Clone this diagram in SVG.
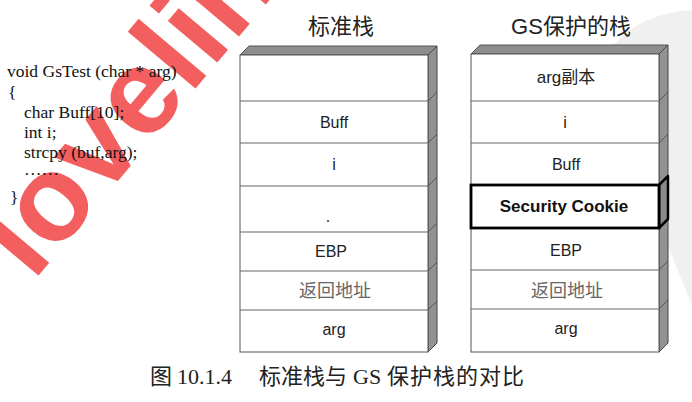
<svg xmlns="http://www.w3.org/2000/svg" width="692" height="402" viewBox="0 0 692 402">
<defs>
<style>
.code{font-family:"Liberation Serif","Noto Sans CJK SC",serif;font-size:17.5px;fill:#111}
.lbl{font-family:"Liberation Sans","Noto Sans CJK SC",sans-serif;font-size:16px;fill:#222;text-anchor:middle}
.cjk{font-family:"Liberation Sans","Noto Sans CJK SC",sans-serif;font-size:18px;fill:#666;text-anchor:middle}
.title{font-family:"Liberation Sans","Noto Sans CJK SC",sans-serif;font-size:22px;fill:#222;text-anchor:middle}
.cap{font-family:"Liberation Serif","Noto Sans CJK SC",serif;font-size:22px;fill:#222}
.front{fill:#fff;stroke:#555;stroke-width:1}
.div{stroke:#666;stroke-width:1;fill:none}
.top{fill:#8e8e8e;stroke:#555;stroke-width:1}
.side{fill:#929292;stroke:#444;stroke-width:1}
.sdiv{stroke:#555;stroke-width:1}
</style>
</defs>
<rect width="692" height="402" fill="#fff"/>
<!-- faint background logo -->
<path d="M692 10 C655 12 625 28 610 50 L645 190 L692 305 Z" fill="#f0f0f0"/>

<!-- watermark -->
<text transform="translate(33,282) rotate(-50)" font-family="Liberation Sans, sans-serif" font-weight="bold" font-size="122" fill="#f35f5f">lovelin</text>

<!-- code -->
<g id="code">
<text class="code" x="7" y="77">void GsTest (char * arg)</text>
<text class="code" x="8" y="98">{</text>
<text class="code" x="24" y="118">char Buff[10];</text>
<text class="code" x="24" y="138">int i;</text>
<text class="code" x="24" y="158">strcpy (buf,arg);</text>
<text class="code" x="24" y="175">……</text>
<text class="code" x="10" y="203">}</text>
</g>

<!-- left stack -->
<g id="standard-stack">
<text class="title" x="341" y="34">标准栈</text>
<polygon class="top" points="240,55 249,46 437,46 428,55"/>
<polygon class="side" points="428,55 437,46 437,343 428,352"/>
<rect class="front" x="240" y="55" width="188" height="297"/>
<g class="div">
<line x1="240" y1="101" x2="428" y2="101"/>
<line x1="240" y1="143" x2="428" y2="143"/>
<line x1="240" y1="186" x2="428" y2="186"/>
<line x1="240" y1="232" x2="428" y2="232"/>
<line x1="240" y1="271" x2="428" y2="271"/>
<line x1="240" y1="310" x2="428" y2="310"/>
</g>
<g class="sdiv">
<line x1="428" y1="101" x2="437" y2="92"/>
<line x1="428" y1="143" x2="437" y2="134"/>
<line x1="428" y1="186" x2="437" y2="177"/>
<line x1="428" y1="232" x2="437" y2="223"/>
<line x1="428" y1="271" x2="437" y2="262"/>
<line x1="428" y1="310" x2="437" y2="301"/>
</g>
<text class="lbl" x="334" y="128">Buff</text>
<text class="lbl" x="334" y="170">i</text>
<text class="lbl" x="328" y="222">.</text>
<text class="lbl" x="331" y="257">EBP</text>
<text class="cjk" x="335" y="297">返回地址</text>
<text class="lbl" x="334" y="335">arg</text>
</g>

<!-- right stack -->
<g id="gs-stack">
<text class="title" x="571" y="34">GS保护的栈</text>
<polygon class="top" points="471,54 480,45 668,45 659,54"/>
<polygon class="side" points="659,54 668,45 668,343 659,352"/>
<rect class="front" x="471" y="54" width="188" height="298"/>
<g class="div">
<line x1="471" y1="101" x2="659" y2="101"/>
<line x1="471" y1="143" x2="659" y2="143"/>
<line x1="471" y1="270" x2="659" y2="270"/>
<line x1="471" y1="309" x2="659" y2="309"/>
</g>
<g class="sdiv">
<line x1="659" y1="101" x2="668" y2="92"/>
<line x1="659" y1="143" x2="668" y2="134"/>
<line x1="659" y1="270" x2="668" y2="261"/>
<line x1="659" y1="309" x2="668" y2="300"/>
</g>
<text class="cjk" x="566" y="83" style="fill:#222;font-size:17px">arg副本</text>
<text class="lbl" x="565" y="128">i</text>
<text class="lbl" x="566" y="170">Buff</text>
<text class="lbl" x="566" y="256">EBP</text>
<text class="cjk" x="567" y="297">返回地址</text>
<text class="lbl" x="566" y="334">arg</text>
</g>

<!-- security cookie -->
<g id="security-cookie">
<polygon points="659,185 668,176 668,219 659,228" fill="#8a8a8a" stroke="#000" stroke-width="2.5" stroke-linejoin="round"/>
<rect x="471" y="185" width="188" height="43" fill="#fff" stroke="#000" stroke-width="2.8"/>
<text class="lbl" x="564" y="212" font-weight="bold" style="fill:#111;font-size:17px">Security Cookie</text>
</g>

<!-- caption -->
<text class="cap" y="384"><tspan x="150">图</tspan><tspan x="177">10.1.4</tspan><tspan x="259">标准栈与</tspan><tspan x="353">GS</tspan><tspan x="387" letter-spacing="1">保护栈的对比</tspan></text>
</svg>
